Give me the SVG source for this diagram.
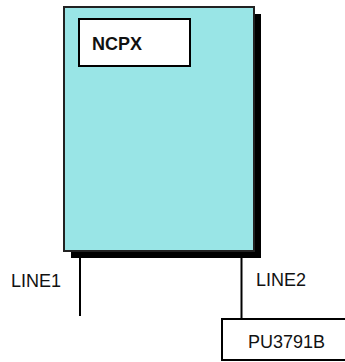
<svg xmlns="http://www.w3.org/2000/svg" width="345" height="362" viewBox="0 0 345 362">
<style>
.lbl{font-family:"Liberation Sans",Arial,sans-serif;font-size:18px;fill:#111}
.bold{font-weight:bold}
.box{fill:#fff;stroke:#000;stroke-width:2}
.conn{stroke:#000;stroke-width:2;fill:none}
</style>
<rect width="345" height="362" fill="#fff"/>
<g id="NCPX-host">
<rect x="71" y="14" width="190" height="244" fill="#000"/>
<rect x="64" y="7" width="190" height="244" fill="#99e5e6" stroke="#222" stroke-width="2"/>
</g>
<g id="NCPX">
<rect class="box" x="79" y="19" width="111" height="47"/>
<text class="lbl bold" x="92" y="50">NCPX</text>
</g>
<g id="connectors">
<line class="conn" x1="80" y1="258" x2="80" y2="316"/>
<line class="conn" x1="241.5" y1="258" x2="241.5" y2="318"/>
</g>
<g id="LINE1"><text class="lbl" x="11" y="286.5">LINE1</text></g>
<g id="LINE2"><text class="lbl" x="256" y="285.5">LINE2</text></g>
<g id="PU3791B">
<rect class="box" x="222" y="319" width="135" height="41"/>
<text class="lbl" x="248" y="348">PU3791B</text>
</g>
</svg>
